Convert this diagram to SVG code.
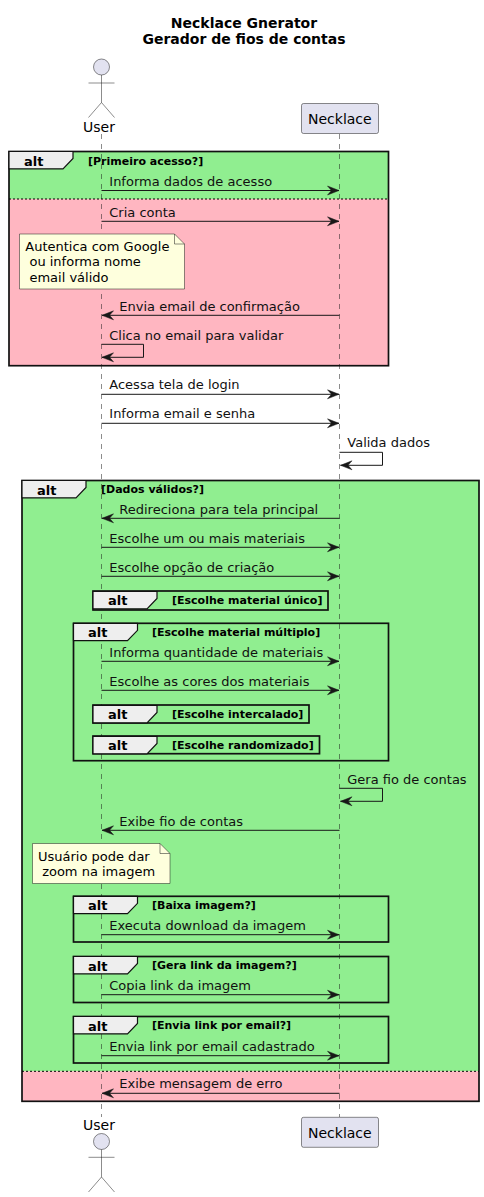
<svg xmlns="http://www.w3.org/2000/svg" width="484" height="1197" viewBox="0 0 484 1197">
<style>
text{font-family:"DejaVu Sans",sans-serif;fill:#000}
.t{font-size:14px;font-weight:bold;text-anchor:middle}
.m{font-size:13px;fill:#111}
.a{font-size:13px;font-weight:bold}
.g{font-size:11px;font-weight:bold}
.n{font-size:13px;white-space:pre}
.p{font-size:14px}
.f{fill:none;stroke:#111;stroke-width:1.7}
.tab{fill:#EEE;stroke:#111;stroke-width:1.2}
.d{stroke:#000;stroke-width:1;stroke-dasharray:2 2;fill:none}
.l{stroke:#181818;stroke-width:.5;stroke-dasharray:5 5;fill:none}
.b{fill:#E2E2F0;stroke:#181818;stroke-width:.5}
.ac{fill:none;stroke:#181818;stroke-width:.5}
.nb{fill:#FEFFDD;stroke:#181818;stroke-width:.5}
.ar{stroke:#181818;stroke-width:1;fill:none;marker-end:url(#h)}
</style>
<defs>
<marker id="h" markerUnits="userSpaceOnUse" markerWidth="14" markerHeight="12" refX="12" refY="6" orient="auto"><path d="M0.5 1.5L12 6L0.5 10.5L4.5 6Z" fill="#181818" stroke="#181818" stroke-width=".5"/></marker>
<path id="tb" d="M0 0H64V7L54 17.3H0Z"/>
</defs>
<g id="title">
<text class="t" x="244" y="28">Necklace Gnerator</text>
<text class="t" x="244" y="44">Gerador de fios de contas</text>
</g>
<g id="frame-fills">
<rect x="9" y="151.5" width="379.5" height="47.5" fill="#90EE90"/>
<rect x="9" y="199" width="379.5" height="166.7" fill="#FFB6C1"/>
<rect x="22" y="480.5" width="457" height="590.8" fill="#90EE90"/>
<rect x="22" y="1071.3" width="457" height="30" fill="#FFB6C1"/>
</g>
<g id="lifelines">
<path class="l" d="M101.5 134V1117"/>
<path class="l" d="M339.5 134V1117"/>
</g>
<g id="user-top">
<circle class="b" cx="101.5" cy="67" r="8"/>
<path class="ac" d="M101.5 75V102.5M88.5 83H114.5M88.5 117.5L101.5 102.5L114.5 117.5"/>
<text class="p" x="83" y="132">User</text>
</g>
<g id="necklace-top">
<rect class="b" x="301.5" y="103.5" width="77" height="30" rx="2"/>
<text class="p" x="308" y="124">Necklace</text>
</g>
<g id="user-bottom">
<text class="p" x="83" y="1130">User</text>
<circle class="b" cx="101.5" cy="1141.5" r="8"/>
<path class="ac" d="M101.5 1149.5V1177M88.5 1157.3H114.5M88.5 1192L101.5 1177L114.5 1192"/>
</g>
<g id="necklace-bottom">
<rect class="b" x="301.5" y="1117.3" width="77" height="30" rx="2"/>
<text class="p" x="308" y="1138">Necklace</text>
</g>
<g id="alt-primeiro">
<rect class="f" x="9" y="151.5" width="379.5" height="214.2"/>
<use href="#tb" x="9" y="151.5" class="tab"/>
<text class="a" x="24" y="165.5">alt</text>
<text class="g" x="88" y="164.5">[Primeiro acesso?]</text>
<path class="d" d="M9 199H388.5"/>
</g>
<g id="alt-dados">
<rect class="f" x="22" y="480.5" width="457" height="620.8"/>
<use href="#tb" x="22" y="480.5" class="tab"/>
<text class="a" x="37" y="494.5">alt</text>
<text class="g" x="101" y="493">[Dados válidos?]</text>
<path class="d" d="M22 1071.3H479"/>
</g>
<g id="alt-unico">
<rect class="f" x="93" y="591" width="235" height="19"/>
<use href="#tb" x="93" y="591.5" class="tab"/>
<text class="a" x="108" y="605">alt</text>
<text class="g" x="172" y="604">[Escolhe material único]</text>
</g>
<g id="alt-multiplo">
<rect class="f" x="73.5" y="623.3" width="315" height="137.4"/>
<use href="#tb" x="73.5" y="623.3" class="tab"/>
<text class="a" x="88" y="637">alt</text>
<text class="g" x="152" y="635.5">[Escolhe material múltiplo]</text>
</g>
<g id="alt-intercalado">
<rect class="f" x="93" y="705" width="216" height="18"/>
<use href="#tb" x="93" y="705.5" class="tab"/>
<text class="a" x="108" y="718.5">alt</text>
<text class="g" x="172" y="718">[Escolhe intercalado]</text>
</g>
<g id="alt-randomizado">
<rect class="f" x="93" y="736" width="226.5" height="17.7"/>
<use href="#tb" x="93" y="736.5" class="tab"/>
<text class="a" x="108" y="750">alt</text>
<text class="g" x="172" y="749">[Escolhe randomizado]</text>
</g>
<g id="alt-baixa">
<rect class="f" x="73.5" y="896.3" width="315" height="45.7"/>
<use href="#tb" x="73.5" y="896.3" class="tab"/>
<text class="a" x="88" y="910">alt</text>
<text class="g" x="152" y="908.5">[Baixa imagem?]</text>
</g>
<g id="alt-link">
<rect class="f" x="73.5" y="956.5" width="315" height="46"/>
<use href="#tb" x="73.5" y="956.5" class="tab"/>
<text class="a" x="88" y="970.5">alt</text>
<text class="g" x="152" y="969">[Gera link da imagem?]</text>
</g>
<g id="alt-envia">
<rect class="f" x="73.5" y="1016.5" width="315" height="46.5"/>
<use href="#tb" x="73.5" y="1016.5" class="tab"/>
<text class="a" x="88" y="1030.5">alt</text>
<text class="g" x="152" y="1029">[Envia link por email?]</text>
</g>
<g id="note-autentica">
<path class="nb" d="M19.5 234H174.5L184.5 244V289H19.5Z"/>
<path class="ac" d="M174.5 234V244H184.5"/>
<text class="n" x="25.3" y="251">Autentica com Google</text>
<text class="n" x="25.3" y="266"> ou informa nome</text>
<text class="n" x="25.3" y="282"> email válido</text>
</g>
<g id="note-usuario">
<path class="nb" d="M32.5 843.5H160L170 853.5V883.5H32.5Z"/>
<path class="ac" d="M160 843.5V853.5H170"/>
<text class="n" x="38" y="861">Usuário pode dar</text>
<text class="n" x="38" y="876"> zoom na imagem</text>
</g>
<g id="connectors">
<path class="ar" d="M101.5 190.5H339"/>
<path class="ar" d="M101.5 221.3H339"/>
<path class="ar" d="M339.5 315.3H102"/>
<path class="ar" d="M101.5 344.3H143.5V357.3H102"/>
<path class="ar" d="M101.5 394.3H339"/>
<path class="ar" d="M101.5 423.3H339"/>
<path class="ar" d="M339.5 452.3H382.5V465.3H340.5"/>
<path class="ar" d="M339.5 518.3H102"/>
<path class="ar" d="M101.5 547.3H339"/>
<path class="ar" d="M101.5 576.3H339"/>
<path class="ar" d="M101.5 661.3H339"/>
<path class="ar" d="M101.5 690.3H339"/>
<path class="ar" d="M339.5 788.3H382.5V801.3H340.5"/>
<path class="ar" d="M339.5 830.3H102"/>
<path class="ar" d="M101.5 934.7H339"/>
<path class="ar" d="M101.5 994.7H339"/>
<path class="ar" d="M101.5 1055.7H339"/>
<path class="ar" d="M339.5 1093.3H102"/>
</g>
<g id="connector-labels">
<text class="m" x="109.3" y="185.5">Informa dados de acesso</text>
<text class="m" x="109.3" y="216.5">Cria conta</text>
<text class="m" x="119.3" y="310.5">Envia email de confirmação</text>
<text class="m" x="109.3" y="339.5">Clica no email para validar</text>
<text class="m" x="109.3" y="389">Acessa tela de login</text>
<text class="m" x="109.3" y="418">Informa email e senha</text>
<text class="m" x="347.3" y="447">Valida dados</text>
<text class="m" x="119.3" y="514">Redireciona para tela principal</text>
<text class="m" x="109.3" y="543">Escolhe um ou mais materiais</text>
<text class="m" x="109.3" y="572">Escolhe opção de criação</text>
<text class="m" x="109.3" y="656.5">Informa quantidade de materiais</text>
<text class="m" x="109.3" y="685.5">Escolhe as cores dos materiais</text>
<text class="m" x="347.3" y="784">Gera fio de contas</text>
<text class="m" x="119.3" y="826">Exibe fio de contas</text>
<text class="m" x="109.3" y="929.5">Executa download da imagem</text>
<text class="m" x="109.3" y="990">Copia link da imagem</text>
<text class="m" x="109.3" y="1050.5">Envia link por email cadastrado</text>
<text class="m" x="119.3" y="1088">Exibe mensagem de erro</text>
</g>
</svg>
